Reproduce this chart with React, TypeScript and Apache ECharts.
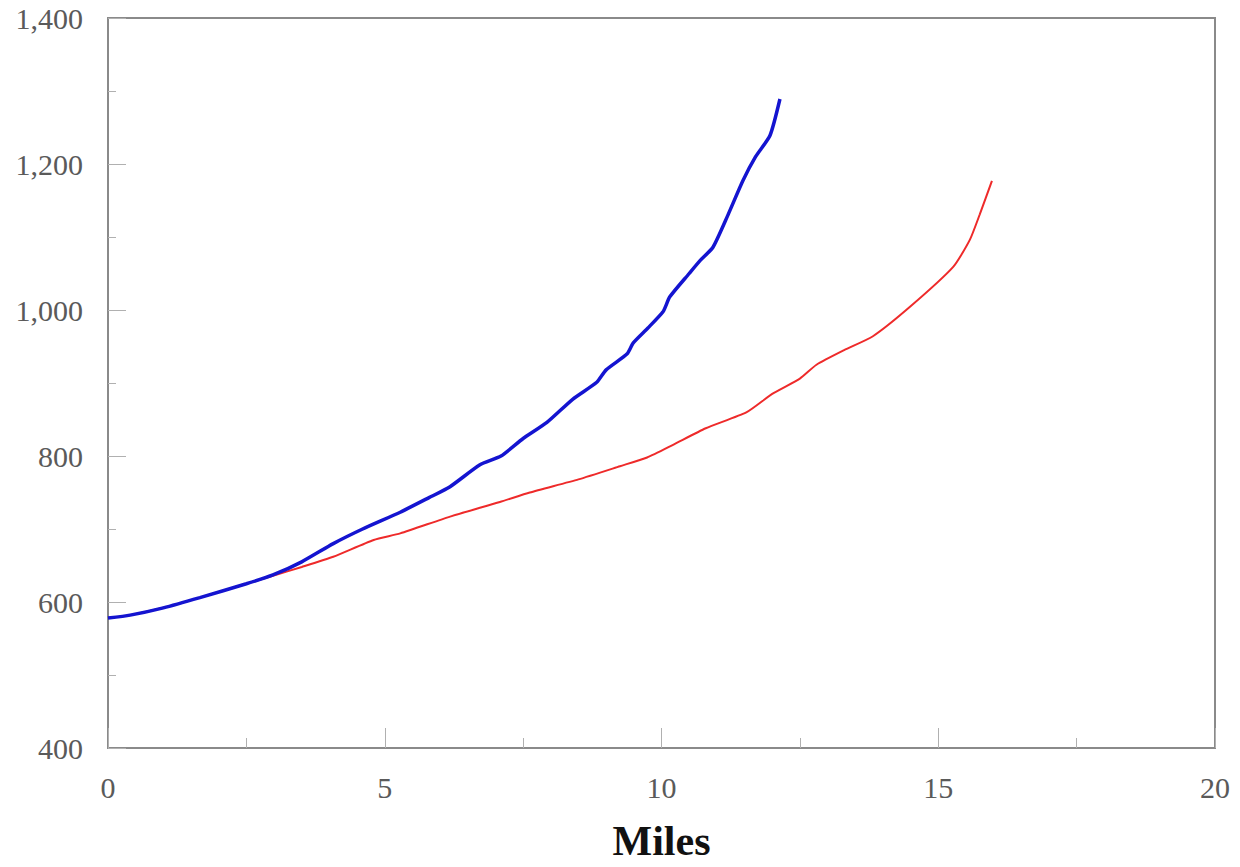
import React, { useEffect, useRef } from "react";
import * as echarts from "echarts";

const blueMiles = [0, 0.4, 1.0, 1.66, 2.5, 2.98, 3.5, 4.07, 4.6, 5.28, 5.8, 6.18, 6.72, 7.1, 7.5, 7.93, 8.4, 8.83, 9.0, 9.38, 9.49, 9.75, 10.03, 10.15, 10.5, 10.7, 10.93, 11.2, 11.47, 11.7, 11.96, 12.14];
const blueValues = [578, 582, 592, 606, 625, 637, 655, 680, 700, 723, 743, 758, 788, 800, 824, 846, 878, 901, 918, 940, 955, 975, 998, 1018, 1050, 1068, 1086, 1130, 1177, 1210, 1239, 1289];

const redMiles = [0, 0.4, 1.0, 1.66, 2.5, 2.98, 3.5, 4.07, 4.8, 5.28, 6.18, 7.08, 7.62, 8.5, 9.25, 9.74, 10.2, 10.8, 11.54, 12.0, 12.5, 12.8, 13.3, 13.82, 14.5, 15.27, 15.57, 15.75, 15.97];
const redValues = [578, 582, 592, 606, 625, 636, 648, 662, 685, 694, 717, 737, 750, 768, 786, 798, 815, 838, 860, 885, 906, 925, 945, 964, 1005, 1059, 1096, 1131, 1177];

const xAxisName = "Miles";

const serif = '"Liberation Serif", "Times New Roman", serif';

export default function App() {
  const ref = useRef<HTMLDivElement>(null);
  useEffect(() => {
    if (!ref.current) return;
    const chart = echarts.init(ref.current, null, { renderer: "svg" });
    const pair = (xs: number[], ys: number[]) => xs.map((x, i) => [x, ys[i]]);
    chart.setOption({
      animation: false,
      backgroundColor: "#ffffff",
      grid: {
        left: 108,
        top: 18,
        width: 1107,
        height: 739,
        show: true,
        borderColor: "#8a8a8a",
        borderWidth: 2,
      },
      xAxis: {
        type: "value",
        min: 0,
        max: 20,
        interval: 5,
        name: xAxisName,
        nameLocation: "middle",
        nameGap: 72,
        nameTextStyle: { fontFamily: serif, fontWeight: "bold", fontSize: 42, color: "#111" },
        axisLine: { show: true, onZero: false, lineStyle: { color: "#8a8a8a", width: 2 } },
        axisTick: { show: true, inside: true, length: 20, lineStyle: { color: "#b0b0b0", width: 1 } },
        minorTick: { show: true, splitNumber: 2, length: 10, lineStyle: { color: "#b0b0b0", width: 1 } },
        splitLine: { show: false },
        axisLabel: { fontFamily: serif, fontSize: 30, color: "#5a5a5a", margin: 24 },
      },
      yAxis: {
        type: "value",
        min: 400,
        max: 1400,
        interval: 200,
        axisLine: { show: true, lineStyle: { color: "#8a8a8a", width: 2 } },
        axisTick: { show: true, inside: true, length: 18, lineStyle: { color: "#b0b0b0", width: 1 } },
        minorTick: { show: true, splitNumber: 2, length: 8, lineStyle: { color: "#b0b0b0", width: 1 } },
        splitLine: { show: false },
        axisLabel: {
          fontFamily: serif,
          fontSize: 30,
          color: "#5a5a5a",
          margin: 25,
          formatter: (v: number) => v.toLocaleString("en-US"),
        },
      },
      series: [
        {
          type: "line",
          data: pair(redMiles, redValues),
          showSymbol: false,
          smooth: 0.2,
          lineStyle: { color: "#ee2a2a", width: 2 },
          z: 2,
        },
        {
          type: "line",
          data: pair(blueMiles, blueValues),
          showSymbol: false,
          smooth: 0.2,
          lineStyle: { color: "#1414d0", width: 3.5 },
          z: 3,
        },
      ],
    });
    return () => chart.dispose();
  }, []);
  return (
    <div
      ref={ref}
      style={{ position: "absolute", left: 0, top: 0, width: 1240, height: 867 }}
    />
  );
}
